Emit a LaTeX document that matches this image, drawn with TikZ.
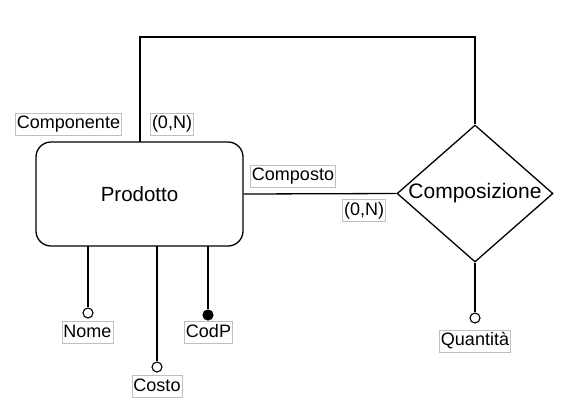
\documentclass[tikz,border=0pt]{standalone}
\usepackage{fontspec}
\setmainfont{Liberation Sans}
\usetikzlibrary{shapes.geometric}
\begin{document}
\begin{tikzpicture}[x=1pt,y=-1pt,
  lbl/.style={draw=black!25,fill=white,line width=0.6pt,font=\fontsize{18}{19}\selectfont,inner xsep=1.5pt,inner ysep=0pt,minimum height=22pt,text height=13pt,text depth=4pt},
  conn/.style={line width=1.3pt},
  attr/.style={circle,draw,line width=1.1pt,fill=white,inner sep=0pt,minimum size=10pt},
  keyattr/.style={attr,fill=black}]
\useasboundingbox (0,0) rectangle (577,416);
\node[draw,line width=1.3pt,rounded corners=15pt,minimum width=207pt,minimum height=104pt,font=\fontsize{20.5}{22}\selectfont] (prod) at (139.5,194) {Prodotto};
\node[draw,diamond,line width=1.3pt,minimum width=156pt,minimum height=137pt,inner sep=0pt,aspect=1.14] (comp) at (475,193.5) {};
\node[font=\fontsize{21}{22}\selectfont] (comptext) at (475,193.5) {Composizione};
\coordinate (ptop) at (140,142);
\coordinate (c1) at (140,37);
\coordinate (c2) at (475,37);
\draw[conn] (ptop) -- (c1) -- (c2) -- (comp.north);
\draw[conn] (prod.east) -- (comp.west);
\node[attr] (nomec) at (88,313) {};
\node[attr] (costoc) at (157,367) {};
\node[keyattr] (codpc) at (208,315) {};
\node[attr] (quantc) at (475,318) {};
\draw[conn] (88,246) -- (nomec);
\draw[conn] (157,246) -- (costoc);
\draw[conn] (208,246) -- (codpc);
\draw[conn] (comp.south) -- (quantc);
\node[lbl] (nome) at (87.5,332.5) {Nome};
\node[lbl] (costo) at (157,386.5) {Costo};
\node[lbl] (codp) at (208.5,332.5) {CodP};
\node[lbl] (quant) at (475,341) {Quantità};
\node[lbl] (componente) at (68.5,124) {Componente};
\node[lbl] (card1) at (172,124) {(0,N)};
\node[lbl] (composto) at (293,176) {Composto};
\node[lbl] (card2) at (364,210.5) {(0,N)};
\end{tikzpicture}
\end{document}
